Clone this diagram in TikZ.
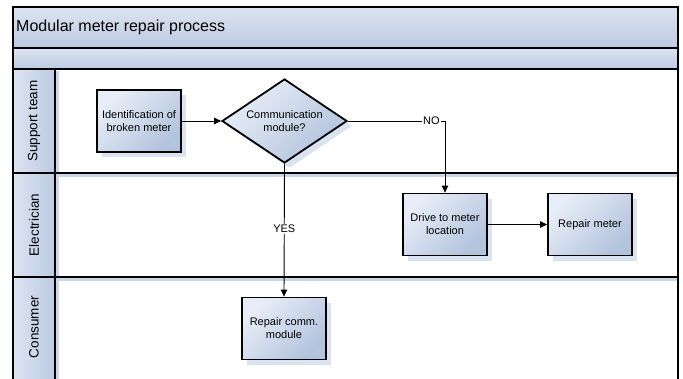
\documentclass[tikz,border=0pt]{standalone}
\usepackage{fontspec}
\setmainfont{Liberation Sans}
\usetikzlibrary{shapes.geometric,arrows.meta,shadows}
\definecolor{bl1}{HTML}{E8EEF7}
\definecolor{bl2}{HTML}{B2C3DD}
\definecolor{hd1}{HTML}{DCE4F1}
\definecolor{hd2}{HTML}{BCCBE2}
\definecolor{shd}{HTML}{CAD7EB}
\begin{document}
\begin{tikzpicture}[x=1pt,y=-1pt,
  boxfill/.style={top color=bl1,bottom color=bl2,shading angle=45},
  shad/.style={drop shadow={shadow xshift=5pt,shadow yshift=-5pt,fill=shd,opacity=0.7}},
  proc/.style={draw=black,line width=1.8pt,boxfill,shad,minimum width=84pt,minimum height=62pt,
    inner sep=1pt,align=center,font=\fontsize{11}{13}\selectfont},
  decis/.style={diamond,draw=black,line width=1.8pt,boxfill,shad,minimum width=125pt,minimum height=84pt,
    aspect=1.49,inner sep=0pt,align=center,font=\fontsize{11}{13}\selectfont},
  lanebar/.style={line width=1.8pt},
  conn/.style={line width=0.9pt,-{Triangle[length=7pt,width=6.5pt]}},
  elab/.style={fill=white,inner sep=1pt,font=\fontsize{11}{13}\selectfont},
  lanelab/.style={rotate=90,font=\fontsize{13.5}{15}\selectfont},
]
\useasboundingbox (0,0) rectangle (683,378);
\clip (0,0) rectangle (683,378);
% bands
\shade[top color=hd1,bottom color=hd2] (13,7) rectangle (678,48);
\shade[top color=hd1,bottom color=hd2] (13,48) rectangle (678,69);
\shade[left color=hd1,right color=hd2] (13,69) rectangle (55,400);
% faint shadow lines
\fill[shd] (55,71) rectangle (59,400);
\fill[shd] (55,174) rectangle (678,177);
\fill[shd] (55,278) rectangle (678,281);
% frame lines
\draw[lanebar] (13,7) rectangle (678,420);
\draw[lanebar] (13,48) -- (678,48);
\draw[lanebar] (13,69) -- (678,69);
\draw[lanebar] (13,173) -- (678,173);
\draw[lanebar] (13,277) -- (678,277);
\draw[lanebar] (55,69) -- (55,420);
% texts of bands
\node[anchor=west,font=\fontsize{16}{18}\selectfont,inner sep=0pt] (title) at (16,27.5) {Modular meter repair process};
\node[lanelab] (l1) at (34,121) {Support team};
\node[lanelab] (l2) at (34,225) {Electrician};
\node[lanelab] (l3) at (34,327) {Consumer};
% nodes
\node[proc] (ident) at (139,121) {Identification of\\broken meter};
\node[decis] (dec) at (284.5,121) {Communication\\module?};
\node[proc] (drive) at (445,224.5) {Drive to meter\\location};
\node[proc] (rmeter) at (590,224.5) {Repair meter};
\node[proc] (rcomm) at (284,328.5) {Repair comm.\\module};
% connectors
\draw[conn] (ident) -- (dec);
\draw[conn] (dec.east) -| node[elab,pos=0.43] {NO} (drive.north);
\draw[conn] (dec.south) -- node[elab,pos=0.49] {YES} (rcomm.north);
\draw[conn] (drive) -- (rmeter);
\end{tikzpicture}
\end{document}
